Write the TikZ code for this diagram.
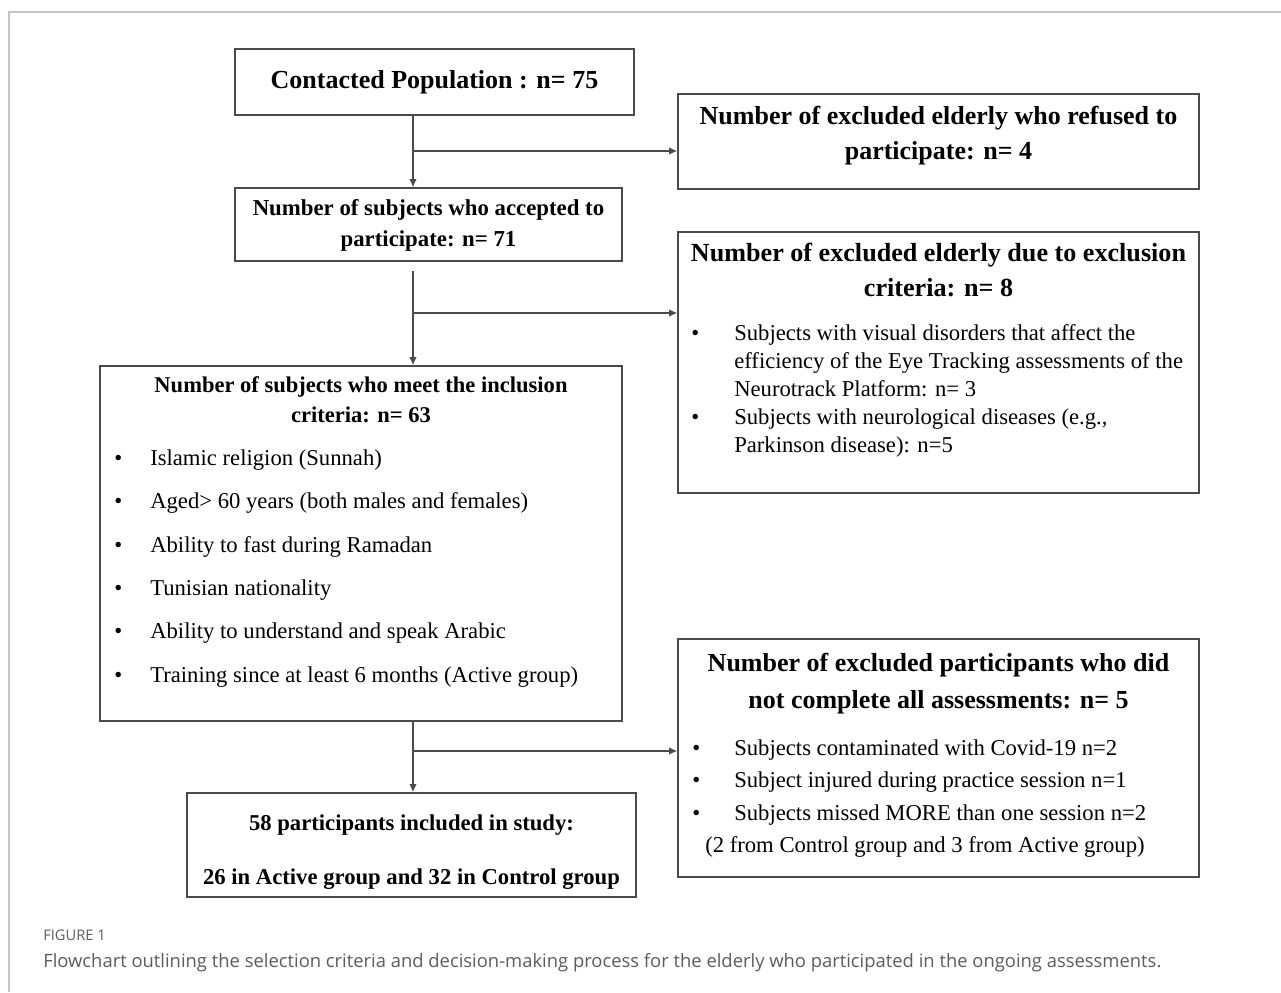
\documentclass[tikz,border=0pt]{standalone}
\usepackage{fontspec}
\setmainfont{Liberation Serif}
\setsansfont{Open Sans}
\usetikzlibrary{arrows.meta}

\definecolor{boxgray}{HTML}{4A4A4A}
\definecolor{framegray}{HTML}{C4C4C4}
\definecolor{capgray}{HTML}{5C5C5C}

\begin{document}
\begin{tikzpicture}[x=0.75pt,y=-0.75pt,
    box/.style={draw=boxgray,line width=1.2pt,inner sep=0pt},
    ttl/.style={anchor=base,inner sep=0pt,font=\bfseries},
    lst/.style={anchor=base west,inner sep=0pt},
    line/.style={draw=boxgray,line width=0.9pt},
    arr/.style={line,-{Latex[length=6pt,width=5.5pt]}}]
\useasboundingbox (0,0) rectangle (1281,992);
\draw[framegray,line width=0.9pt] (9,992) -- (9,12) -- (1281,12);

% boxes
\node[box,minimum width=299.25pt,minimum height=49.5pt,
    font=\fontsize{19.5}{22}\selectfont\bfseries] (contact) at (434.5,82)
    {Contacted Population : n= 75};
\node[box,minimum width=390.75pt,minimum height=71.25pt] (refused) at (938.5,141.5) {};
\node[box,minimum width=290.25pt,minimum height=54.75pt] (accepted) at (428.5,224.5) {};
\node[box,minimum width=390.75pt,minimum height=195.75pt] (exclusion) at (938.5,362.5) {};
\node[box,minimum width=391.5pt,minimum height=266.25pt] (inclusion) at (361,543.5) {};
\node[box,minimum width=390.75pt,minimum height=178.5pt] (notdone) at (938.5,758) {};
\node[box,minimum width=336.75pt,minimum height=78pt] (included) at (411.5,845) {};

% titles
\node[ttl] (refusedT) at (938.5,124.5) {\fontsize{19.5}{26.25}\selectfont
    \begin{tabular}[t]{@{}c@{}}Number of excluded elderly who refused to\\ participate: n= 4\end{tabular}};
\node[ttl] (acceptedT) at (428.5,215.5) {\fontsize{17.1}{23.25}\selectfont
    \begin{tabular}[t]{@{}c@{}}Number of subjects who accepted to\\ participate: n= 71\end{tabular}};
\node[ttl] (exclusionT) at (938.5,261.5) {\fontsize{19.6}{26.25}\selectfont
    \begin{tabular}[t]{@{}c@{}}Number of excluded elderly due to exclusion\\ criteria: n= 8\end{tabular}};
\node[ttl] (inclusionT) at (361,392.5) {\fontsize{16.9}{22.5}\selectfont
    \begin{tabular}[t]{@{}c@{}}Number of subjects who meet the inclusion\\ criteria: n= 63\end{tabular}};
\node[ttl] (notdoneT) at (938.5,671.5) {\fontsize{19.5}{27.75}\selectfont
    \begin{tabular}[t]{@{}c@{}}Number of excluded participants who did\\ not complete all assessments: n= 5\end{tabular}};
\node[ttl] (includedT) at (411.5,830.5) {\fontsize{17}{40.5}\selectfont
    \begin{tabular}[t]{@{}c@{}}58 participants included in study:\\ 26 in Active group and 32 in Control group\end{tabular}};

% lists
\node[lst] (exclusionL) at (691,340.5) {\fontsize{17}{21}\selectfont
    \begin{tabular}[t]{@{}p{32.25pt}@{}l@{}}
    \textbullet & Subjects with visual disorders that affect the\\
     & efficiency of the Eye Tracking assessments of the\\
     & Neurotrack Platform: n= 3\\
    \textbullet & Subjects with neurological diseases (e.g.,\\
     & Parkinson disease): n=5
    \end{tabular}};
\node[lst] (inclusionL) at (114,465.5) {\fontsize{17}{32.5}\selectfont
    \begin{tabular}[t]{@{}p{27pt}@{}l@{}}
    \textbullet & Islamic religion (Sunnah)\\
    \textbullet & Aged> 60 years (both males and females)\\
    \textbullet & Ability to fast during Ramadan\\
    \textbullet & Tunisian nationality\\
    \textbullet & Ability to understand and speak Arabic\\
    \textbullet & Training since at least 6 months (Active group)
    \end{tabular}};
\node[lst] (notdoneL) at (692,755.5) {\fontsize{17}{24.25}\selectfont
    \begin{tabular}[t]{@{}p{31.5pt}@{}l@{}}
    \textbullet & Subjects contaminated with Covid-19 n=2\\
    \textbullet & Subject injured during practice session n=1\\
    \textbullet & Subjects missed MORE than one session n=2\\
    \multicolumn{2}{@{\hspace{9.75pt}}l@{}}{(2 from Control group and 3 from Active group)}
    \end{tabular}};

% connectors
\coordinate (j1) at (413,151);
\coordinate (j2) at (413,313);
\coordinate (j3) at (413,751);
\draw[arr] (contact.south -| j1) -- (accepted.north -| j1);
\draw[arr] (j1) -- (j1 -| refused.west);
\draw[arr] ([yshift=-6.75pt]accepted.south -| j2) -- (inclusion.north -| j2);
\draw[arr] (j2) -- (j2 -| exclusion.west);
\draw[arr] (inclusion.south -| j3) -- (included.north -| j3);
\draw[arr] (j3) -- (j3 -| notdone.west);

% caption
\node[lst,text=capgray,font=\sffamily\fontsize{11}{12}\selectfont] (figno) at (43,940) {FIGURE 1};
\node[lst,text=capgray,font=\sffamily\fontsize{13.8}{15}\selectfont] (caption) at (43,967)
    {Flowchart outlining the selection criteria and decision-making process for the elderly who participated in the ongoing assessments.};
\end{tikzpicture}
\end{document}
